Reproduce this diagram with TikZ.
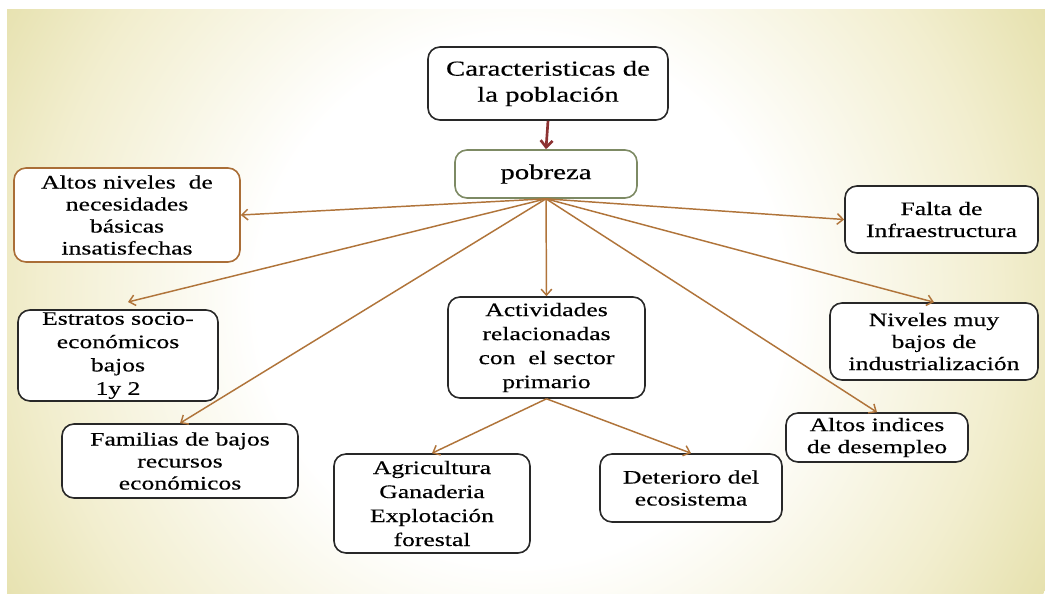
\documentclass[tikz,border=0pt]{standalone}
\usepackage{fontspec}
\setmainfont{Liberation Serif}[FakeStretch=1.35,FakeBold=0.4]
\usetikzlibrary{arrows.meta}
\definecolor{khakiA}{RGB}{242,238,207}
\definecolor{khakiB}{RGB}{230,225,174}
\definecolor{arrowbrown}{RGB}{176,116,58}
\definecolor{boxline}{RGB}{40,40,40}
\definecolor{pobline}{RGB}{125,138,100}
\definecolor{altline}{RGB}{170,110,55}
\definecolor{darkred}{RGB}{140,50,50}
\pgfdeclareradialshading{bgshade}{\pgfpoint{0bp}{0bp}}{color(0bp)=(white); color(11bp)=(white); color(20bp)=(khakiA); color(25bp)=(khakiB); color(50bp)=(khakiB)}
\begin{document}
\begin{tikzpicture}[x=0.75pt,y=-0.75pt,
  box/.style={draw=boxline, line width=1.2pt, rounded corners=9pt, fill=white, align=center, inner sep=0pt, font=\fontsize{14.25pt}{16.5pt}\selectfont},
  bigbox/.style={box, font=\fontsize{16pt}{19.5pt}\selectfont},
  conn/.style={draw=arrowbrown, line width=1.1pt, -{Straight Barb[length=4.5pt,width=8pt]}},
  mainconn/.style={draw=darkred, line width=2pt, -{Straight Barb[length=5pt,width=9pt]}}]
\useasboundingbox (0,0) rectangle (1045,594);
\begin{scope}
  \clip (7,9) rectangle (1045,593);
  \shade[shading=bgshade] (520,300) circle [radius=450pt];
\end{scope}

\node[bigbox, minimum width=180pt, minimum height=54.75pt] (car) at (548,83.5) {Caracteristicas de\\la población};
\node[bigbox, draw=pobline, minimum width=136.5pt, minimum height=36pt] (pob) at (546,174) {pobreza};
\node[box, draw=altline, minimum width=169.5pt, minimum height=70.5pt] (alt) at (127,215) {Altos niveles\ \ de\\necesidades\\básicas\\insatisfechas};
\node[box, minimum width=144.75pt, minimum height=50.25pt] (fal) at (941.5,219.5) {Falta de\\Infraestructura};
\node[box, minimum width=150pt, minimum height=68.25pt, font=\fontsize{14.25pt}{17.5pt}\selectfont] (est) at (118,355.5) {Estratos socio-\\económicos\\bajos\\1y 2};
\node[box, minimum width=147.75pt, minimum height=75.75pt, font=\fontsize{14.25pt}{18pt}\selectfont] (act) at (546.5,347.5) {Actividades\\relacionadas\\con\ \ el sector\\primario};
\node[box, minimum width=156pt, minimum height=57.75pt] (niv) at (934,341.5) {Niveles muy\\bajos de\\industrialización};
\node[box, minimum width=177pt, minimum height=55.5pt] (fam) at (180,461) {Familias de bajos\\recursos\\económicos};
\node[box, minimum width=136.5pt, minimum height=36.75pt] (ind) at (877,437.5) {Altos indices\\de desempleo};
\node[box, minimum width=147pt, minimum height=74.25pt, font=\fontsize{14.25pt}{18pt}\selectfont] (agr) at (432,503.5) {Agricultura\\Ganaderia\\Explotación\\forestal};
\node[box, minimum width=136.5pt, minimum height=51pt] (det) at (691,488) {Deterioro del\\ecosistema};

\coordinate (estT) at (128,302);

\draw[mainconn] (car.south) -- (pob.north);
\draw[conn] (pob.south) -- (alt.east);
\draw[conn] (pob.south) -- (estT);
\draw[conn] (pob.south) -- (fam.north);
\draw[conn] (pob.south) -- (act.north);
\draw[conn] (pob.south) -- (fal.west);
\draw[conn] (pob.south) -- (niv.north);
\draw[conn] (pob.south) -- (ind.north);
\draw[conn] (act.south) -- (agr.north);
\draw[conn] (act.south) -- (det.north);
\end{tikzpicture}
\end{document}
